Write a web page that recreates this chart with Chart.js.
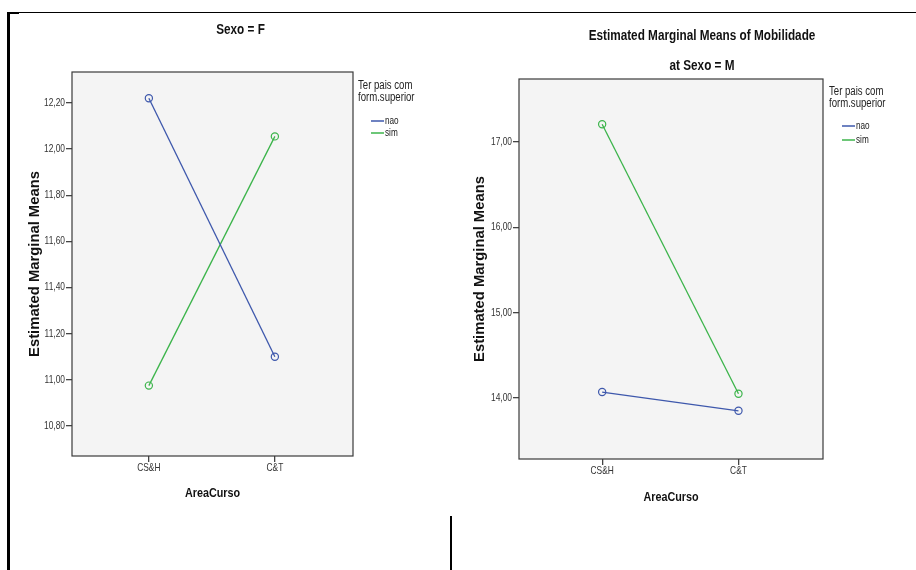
<!DOCTYPE html>
<html lang="pt">
  <head>
    <meta charset="utf-8">
    <script src="https://cdn.jsdelivr.net/npm/chart.js"></script>
    <title>Estimated Marginal Means of Mobilidade</title>
    <style>
      body { margin: 0; background: #fff; }
      #page { position: relative; width: 916px; height: 570px; overflow: hidden; }
      .box { position: absolute; top: 0; height: 570px; }
      .rule { position: absolute; background: #000; }
    </style>
  </head>
  <body>
    <div id="page">
      <div class="box" style="left:0;width:458px"><canvas id="chartF"></canvas></div>
      <div class="box" style="left:458px;width:458px"><canvas id="chartM"></canvas></div>
      <div class="rule" style="left:7px;top:12px;width:909px;height:1px"></div>
      <div class="rule" style="left:7px;top:12px;width:12px;height:2px"></div>
      <div class="rule" style="left:7px;top:12px;width:3px;height:558px"></div>
      <div class="rule" style="left:450px;top:516px;width:2px;height:54px"></div>
    </div>
  </body>
  <script>
    // data
    const categories = ['CS&H', 'C&T'];
    const seriesNames = ['nao', 'sim'];
    const naoF = [12.22, 11.10];
    const simF = [10.975, 12.055];
    const naoM = [14.07, 13.85];
    const simM = [17.21, 14.05];
    const yTicksF = [10.80, 11.00, 11.20, 11.40, 11.60, 11.80, 12.00, 12.20];
    const yTicksM = [14.00, 15.00, 16.00, 17.00];

    const blue = '#3e58ac';
    const green = '#3cb44b';
    const sans = "'Liberation Sans', Arial, sans-serif";

    function points(values) {
      return values.map((v, i) => ({x: i + 1, y: v}));
    }

    // text squeezed sideways, like the narrow SPSS font
    function narrowText(ctx, text, x, y, font, sx, align, rot) {
      ctx.save();
      ctx.translate(x, y);
      if (rot) ctx.rotate(rot);
      ctx.scale(sx, 1);
      ctx.font = font;
      ctx.textAlign = align;
      ctx.textBaseline = 'middle';
      ctx.fillText(text, 0, 0);
      ctx.restore();
    }

    // background + frame of plot area, tick labels, titles and legend
    const spssPlugin = {
      id: 'spss',
      beforeDraw(chart) {
        const a = chart.chartArea, ctx = chart.ctx;
        ctx.save();
        ctx.fillStyle = '#f4f4f4';
        ctx.fillRect(a.left, a.top, a.right - a.left, a.bottom - a.top);
        ctx.restore();
      },
      afterDraw(chart) {
        const a = chart.chartArea, ctx = chart.ctx;
        const o = chart.options.plugins.spss;
        const xs = chart.scales.x, ys = chart.scales.y;
        ctx.save();
        ctx.strokeStyle = '#3a3a3a';
        ctx.lineWidth = 1.2;
        ctx.strokeRect(a.left, a.top, a.right - a.left, a.bottom - a.top);
        // tick labels
        ctx.fillStyle = '#333';
        ys.ticks.forEach(t => narrowText(ctx, t.value.toFixed(2).replace('.', ','), a.left - 7, ys.getPixelForValue(t.value), '10.5px ' + sans, 0.8, 'right'));
        xs.ticks.forEach(t => narrowText(ctx, categories[t.value - 1], xs.getPixelForValue(t.value), a.bottom + 12, '10.5px ' + sans, 0.8, 'center'));
        ctx.fillStyle = '#111';
        const cx = (a.left + a.right) / 2;
        o.titles.forEach(t => narrowText(ctx, t[0], cx + o.titleDx, t[1], 'bold 14px ' + sans, 0.84, 'center'));
        narrowText(ctx, 'AreaCurso', cx, a.bottom + o.xTitleDy, 'bold 13.5px ' + sans, 0.8, 'center');
        narrowText(ctx, 'Estimated Marginal Means', o.yTitleX, (a.top + a.bottom) / 2, 'bold 14.8px ' + sans, 1, 'center', -Math.PI / 2);
        // legend
        const lx = a.right + o.legDx;
        ctx.fillStyle = '#222';
        narrowText(ctx, 'Ter pais com', lx, o.legY, '12px ' + sans, 0.8, 'left');
        narrowText(ctx, 'form.superior', lx, o.legY + 12, '12px ' + sans, 0.8, 'left');
        chart.data.datasets.forEach((ds, i) => {
          const y = o.legY + o.itemDy + i * o.itemGap;
          ctx.strokeStyle = ds.borderColor;
          ctx.lineWidth = 1.5;
          ctx.beginPath();
          ctx.moveTo(lx + 13, y);
          ctx.lineTo(lx + 26, y);
          ctx.stroke();
          ctx.fillStyle = '#222';
          narrowText(ctx, ds.label, lx + 27, y, '10px ' + sans, 0.82, 'left');
        });
        ctx.restore();
      }
    };

    function makeChart(id, nao, sim, yTicks, yMin, yMax, pad, opts) {
      const ds = (label, data, color) => ({
        label: label,
        data: points(data),
        borderColor: color,
        backgroundColor: 'transparent',
        borderWidth: 1.3,
        pointRadius: 3.6,
        pointBorderWidth: 1.2,
        pointBackgroundColor: 'transparent',
        pointBorderColor: color
      });
      return new Chart(document.getElementById(id), {
        type: 'line',
        data: {
          datasets: [ds(seriesNames[0], nao, blue), ds(seriesNames[1], sim, green)]
        },
        options: {
          responsive: false,
          animation: false,
          events: [],
          layout: {padding: pad},
          plugins: {legend: {display: false}, title: {display: false}, tooltip: {enabled: false}, spss: opts},
          scales: {
            x: {
              type: 'linear',
              min: 0.39,
              max: 2.62,
              afterBuildTicks: s => { s.ticks = categories.map((c, i) => ({value: i + 1})); },
              afterFit: s => { s.height = 44; },
              border: {display: false},
              grid: {drawOnChartArea: false, drawTicks: true, tickLength: 6, color: '#444', lineWidth: 1.3},
              ticks: {display: false}
            },
            y: {
              type: 'linear',
              min: yMin,
              max: yMax,
              afterBuildTicks: s => { s.ticks = yTicks.map(v => ({value: v})); },
              afterFit: s => { s.width = 46; },
              border: {display: false},
              grid: {drawOnChartArea: false, drawTicks: true, tickLength: 6, color: '#444', lineWidth: 1.3},
              ticks: {display: false}
            }
          }
        },
        plugins: [spssPlugin]
      });
    }

    const cF = document.getElementById('chartF');
    cF.width = 458; cF.height = 570;
    const cM = document.getElementById('chartM');
    cM.width = 458; cM.height = 570;

    makeChart('chartF', naoF, simF, yTicksF, 10.67, 12.334,
      {left: 26, right: 105, top: 72, bottom: 70},
      {titles: [['Sexo = F', 30]], titleDx: 28, xTitleDy: 37, yTitleX: 35,
       legDx: 5, legY: 86, itemDy: 35, itemGap: 12});

    makeChart('chartM', naoM, simM, yTicksM, 13.285, 17.74,
      {left: 15, right: 93, top: 79, bottom: 67},
      {titles: [['Estimated Marginal Means of Mobilidade', 36], ['at Sexo = M', 66]], titleDx: 31, xTitleDy: 38, yTitleX: 22,
       legDx: 6, legY: 92, itemDy: 34, itemGap: 14});
  </script>
</html>
